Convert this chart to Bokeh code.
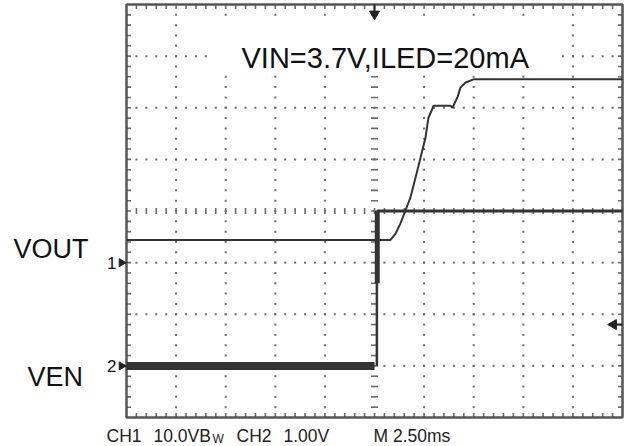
import numpy as np
from bokeh.plotting import figure
from bokeh.models import Range1d, Label
from bokeh.embed import file_html
from bokeh.resources import INLINE

# ---------------- data ----------------
# CH1 : VOUT (V), time in ms relative to trigger
vout_t = [-12.5, 0.81, 1.06, 1.31, 1.56, 1.81, 2.07, 2.32, 2.57, 2.72, 2.92, 2.97,
          3.83, 3.93, 4.18, 4.33, 4.59, 4.99, 12.5]
vout_v = [4.4, 4.4, 5.6, 7.6, 10.1, 12.6, 16.5, 20.3, 24.2, 28.1, 29.8, 30.4,
          30.4, 30.0, 32.0, 33.9, 34.9, 35.5, 35.5]
# CH2 : VEN (V)
ven_low_t = [-12.5, 0.0]
ven_low_v = [0.0, 0.0]
ven_edge_t = [0.12, 0.12]
ven_edge_v = [0.0, 3.0]
ven_ring_t = [0.14, 0.14]
ven_ring_v = [1.6, 3.0]
ven_high_t = [0.12, 12.5]
ven_high_v = [3.0, 3.0]

ch1_scale, ch1_pos = 10.0, -1.0   # V/div, ground marker (div)
ch2_scale, ch2_pos = 1.0, -3.0
trig_level = -2.2                  # div
time_div = 2.5                     # ms/div
n_xdiv, n_ydiv = 10, 8

title_text = "VIN=3.7V,ILED=20mA"
trace_names = ["VOUT", "VEN"]
status_texts = ["CH1", "10.0VB", "W", "CH2", "1.00V", "M 2.50ms"]

# ---------------- geometry helpers (page pixels -> data) ----------------
W, H = 625, 446
PX_X = 49.6 / time_div   # px per ms
PX_Y = 51.625            # px per div
CX, CY = 374.0, 210.5    # pixel of graticule centre


def tx(X):
    return (X - CX) / PX_X


def dy(Y):
    return (CY - Y) / PX_Y


p = figure(width=W, height=H, output_backend="svg", toolbar_location=None,
           x_axis_location=None, y_axis_location=None,
           min_border=0, min_border_left=0, min_border_right=0,
           min_border_top=0, min_border_bottom=0)
p.x_range = Range1d(tx(0), tx(W))
p.y_range = Range1d(dy(H), dy(0))
p.background_fill_color = "white"
p.border_fill_color = "white"
p.outline_line_color = None
p.xgrid.grid_line_color = None
p.ygrid.grid_line_color = None
for g in p.grid:
    g.visible = False

gx0, gx1 = -n_xdiv / 2 * time_div, n_xdiv / 2 * time_div
gy0, gy1 = -n_ydiv / 2, n_ydiv / 2

GRID = "#6a6a6a"
TRACE = "#333333"

# dotted graticule
dx, dyv = [], []
for i in range(1, n_xdiv):
    gx = gx0 + i * time_div
    if abs(gx) < 1e-9:
        continue
    for yy in np.arange(gy0 + 0.2, gy1 - 1e-9, 0.2):
        dx.append(gx); dyv.append(yy)
for j in range(1, n_ydiv):
    gy = gy0 + j
    if abs(gy) < 1e-9:
        continue
    for xx in np.arange(gx0 + 0.5, gx1 - 1e-9, time_div / 5):
        dx.append(xx); dyv.append(gy)
p.scatter(dx, dyv, marker="square", size=2, fill_color=GRID, line_color=None)

# centre lines with ticks
cy_ticks = np.arange(gy0 + 0.2, gy1 - 1e-9, 0.2)
p.scatter(np.zeros_like(cy_ticks), cy_ticks, marker="dash", size=7,
          line_color=GRID, line_width=1.6)
cx_ticks = np.arange(gx0 + 0.5, gx1 - 1e-9, time_div / 5)
p.scatter(cx_ticks, np.zeros_like(cx_ticks), marker="dash", size=6, angle=np.pi / 2,
          line_color=GRID, line_width=1.6)

# edge ticks
tl = 4.5
ey = np.arange(gy0 + 0.2, gy1 - 1e-9, 0.2)
ex = np.arange(gx0 + 0.5, gx1 - 1e-9, time_div / 5)
p.segment(x0=[gx0] * len(ey), y0=ey, x1=[gx0 + tl / PX_X] * len(ey), y1=ey,
          line_color=GRID, line_width=1.6)
p.segment(x0=[gx1] * len(ey), y0=ey, x1=[gx1 - tl / PX_X] * len(ey), y1=ey,
          line_color=GRID, line_width=1.6)
p.segment(x0=ex, y0=[gy0] * len(ex), x1=ex, y1=[gy0 + tl / PX_Y] * len(ex),
          line_color=GRID, line_width=1.6)
p.segment(x0=ex, y0=[gy1] * len(ex), x1=ex, y1=[gy1 - tl / PX_Y] * len(ex),
          line_color=GRID, line_width=1.6)

# graticule frame
p.quad(left=[gx0], right=[gx1], top=[gy1], bottom=[gy0], fill_color=None,
       line_color="#555555", line_width=2.5)

# white box behind title
p.quad(left=tx(210), right=tx(556), top=dy(19), bottom=dy(70),
       fill_color="white", line_color=None)

# ---------------- traces ----------------
def ch1(v):
    return [ch1_pos + a / ch1_scale for a in v]


def ch2(v):
    return [ch2_pos + a / ch2_scale for a in v]


p.line(vout_t, ch1(vout_v), line_color=TRACE, line_width=2)
p.line(ven_low_t, ch2(ven_low_v), line_color=TRACE, line_width=8)
p.line(ven_edge_t, ch2(ven_edge_v), line_color=TRACE, line_width=2.5)
p.line(ven_ring_t, ch2(ven_ring_v), line_color=TRACE, line_width=5)
p.line(ven_high_t, ch2(ven_high_v), line_color=TRACE, line_width=3)

# ---------------- markers ----------------
# trigger position (top)
p.segment(x0=[0], y0=[gy1], x1=[0], y1=[dy(12)], line_color="#222222", line_width=2)
p.scatter([0], [dy(13.5)], marker="inverted_triangle", size=10,
          fill_color="#222222", line_color="#222222")
# trigger level (right)
p.scatter([tx(613)], [trig_level], marker="triangle", angle=np.pi / 2, size=10,
          fill_color="#222222", line_color="#222222")
p.segment(x0=[tx(615)], y0=[trig_level], x1=[gx1], y1=[trig_level],
          line_color="#222222", line_width=2)

# channel markers (left of the graticule)
for num, pos in (("1", ch1_pos), ("2", ch2_pos)):
    p.add_layout(Label(x=tx(116), y=pos, text=num, text_font="Liberation Sans",
                       text_font_size="17px", text_align="right",
                       text_baseline="middle", text_color="#111111"))
    p.scatter([tx(121)], [pos], marker="triangle", angle=-np.pi / 2, size=8,
              fill_color="#222222", line_color="#222222")
    p.segment(x0=[tx(121)], y0=[pos], x1=[gx0], y1=[pos],
              line_color="#222222", line_width=1.5)

# ---------------- texts ----------------
p.add_layout(Label(x=tx(241), y=dy(57), text=title_text, text_font="Liberation Sans",
                   text_font_size="29px", text_baseline="alphabetic",
                   text_color="#111111"))
p.add_layout(Label(x=tx(13), y=dy(248), text=trace_names[0], text_font="Liberation Sans",
                   text_font_size="27px", text_baseline="alphabetic",
                   text_color="#111111"))
p.add_layout(Label(x=tx(27), y=dy(376), text=trace_names[1], text_font="Liberation Sans",
                   text_font_size="27px", text_baseline="alphabetic",
                   text_color="#111111"))

status_x = [106, 153, 212, 236, 283, 373]
for s, X in zip(status_texts, status_x):
    sub = (s == "W")
    p.add_layout(Label(x=tx(X), y=dy(438 if sub else 435), text=s,
                       text_font="Liberation Sans",
                       text_font_size="12px" if sub else "17.5px",
                       text_baseline="alphabetic", text_color="#222222"))

open("out.html", "w").write(file_html(p, INLINE))
